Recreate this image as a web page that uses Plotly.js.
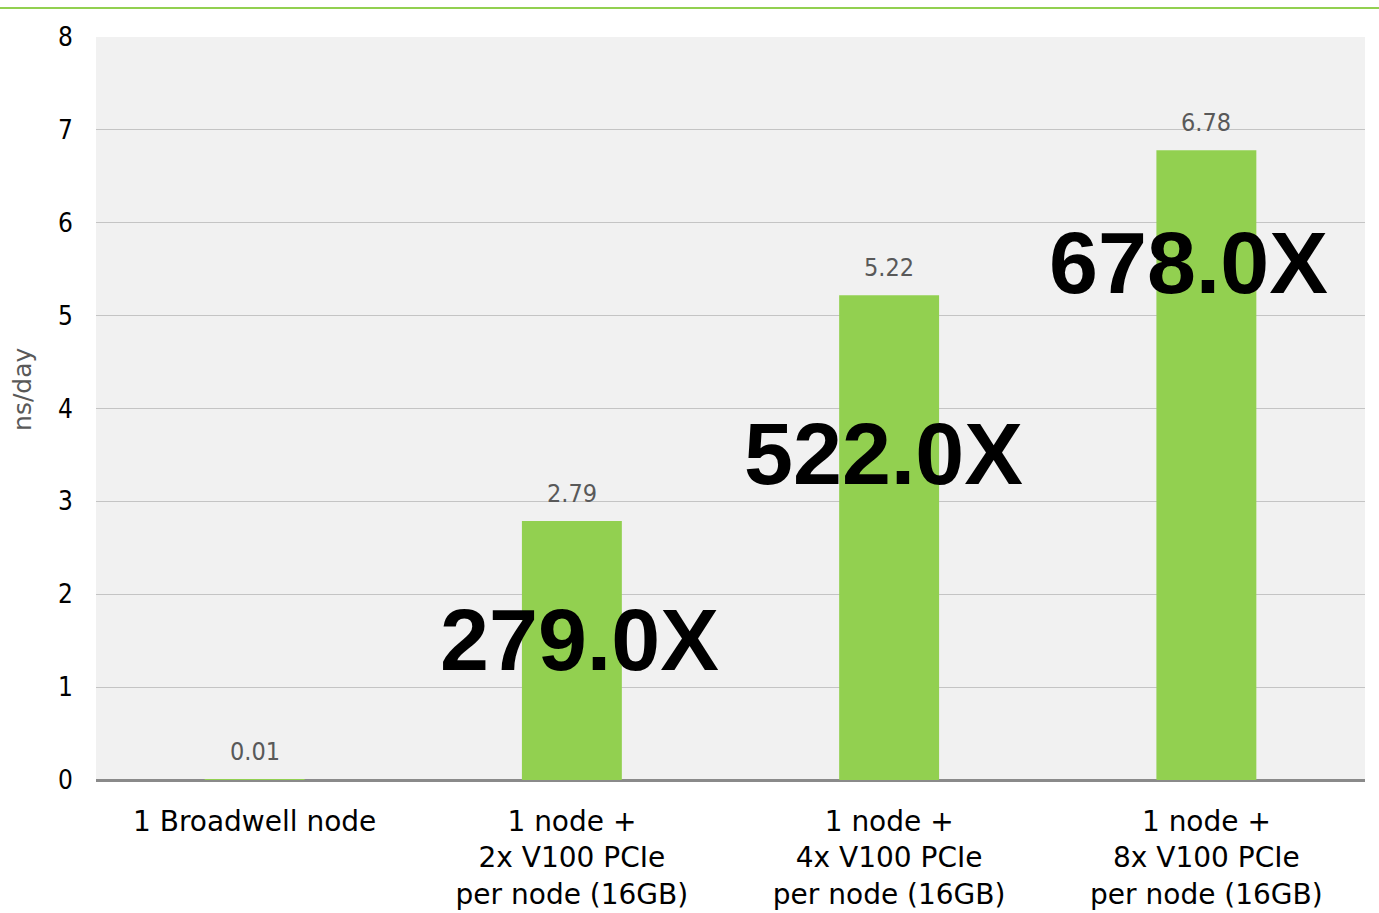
<!DOCTYPE html>
<html>
<head>
<meta charset="utf-8">
<script src="https://cdn.plot.ly/plotly-3.0.1.min.js"></script>
<style>
  html, body { margin: 0; padding: 0; background: #fff; }
  #chart { width: 1379px; height: 913px; }
</style>
</head>
<body>
<div id="chart"></div>
<script>
// data
const categories = [
  "1 Broadwell node",
  "1 node +<br>2x V100 PCIe<br>per node (16GB)",
  "1 node +<br>4x V100 PCIe<br>per node (16GB)",
  "1 node +<br>8x V100 PCIe<br>per node (16GB)"
];
const nsPerDay = [0.01, 2.79, 5.22, 6.78];
const yTicks = [0, 1, 2, 3, 4, 5, 6, 7, 8];

const baseFont = "DejaVu Sans Condensed, Liberation Sans, sans-serif";
const labelFont = "DejaVu Sans, Liberation Sans, sans-serif";
const green = "#92d050";

// speedup vs the CPU-only node
const speedup = nsPerDay.map(v => (v / nsPerDay[0]).toFixed(1) + "X");

// where the big speedup labels sit (y in data units, shift in px)
const labelY = [null, 1.51, 3.52, 5.57];
const labelShift = [0, 8, -6, -18];

const annotations = [];
for (let i = 1; i < categories.length; i++) {
  annotations.push({
    x: categories[i],
    y: labelY[i],
    xref: "x",
    yref: "y",
    text: speedup[i],
    showarrow: false,
    xshift: labelShift[i],
    font: { family: "Liberation Sans, Arial, sans-serif", size: 88, color: "#000", weight: "bold" }
  });
}

// value labels above each bar
nsPerDay.forEach((v, i) => {
  annotations.push({
    x: categories[i],
    y: v,
    xref: "x",
    yref: "y",
    text: v.toFixed(2),
    showarrow: false,
    yanchor: "bottom",
    yshift: 11,
    font: { family: baseFont, size: 25, color: "#595959" }
  });
});

// y axis title, sits a bit above the middle
annotations.push({
  xref: "paper",
  yref: "paper",
  x: -0.0705,
  y: 0.525,
  text: "ns/day",
  textangle: -90,
  showarrow: false,
  font: { family: labelFont, size: 25, color: "#595959" }
});

const trace = {
  type: "bar",
  x: categories,
  y: nsPerDay,
  marker: { color: green },
  hoverinfo: "none"
};

const layout = {
  width: 1379,
  height: 913,
  margin: { l: 96, r: 14, t: 37, b: 133 },
  paper_bgcolor: "#ffffff",
  plot_bgcolor: "#f1f1f1",
  bargap: 0.685,
  showlegend: false,
  font: { family: baseFont, size: 26, color: "#000" },
  xaxis: {
    type: "category",
    showgrid: false,
    showline: false,
    zeroline: false,
    ticks: "",
    ticklabelstandoff: 22,
    tickfont: { family: labelFont, size: 28, color: "#000" }
  },
  yaxis: {
    range: [0, 8],
    tickvals: yTicks,
    showgrid: true,
    gridcolor: "#c4c4c4",
    gridwidth: 1,
    zeroline: true,
    zerolinecolor: "#8a8a8a",
    zerolinewidth: 3,
    showline: false,
    ticks: "",
    ticklabelstandoff: 22,
    tickfont: { family: baseFont, size: 26, color: "#000" }
  },
  annotations: annotations,
  shapes: [{
    type: "line",
    xref: "paper",
    yref: "paper",
    x0: -0.08,
    x1: 1.02,
    y0: 1.039,
    y1: 1.039,
    line: { color: green, width: 2 }
  }]
};

Plotly.newPlot("chart", [trace], layout, { displayModeBar: false, staticPlot: true });
</script>
</body>
</html>
